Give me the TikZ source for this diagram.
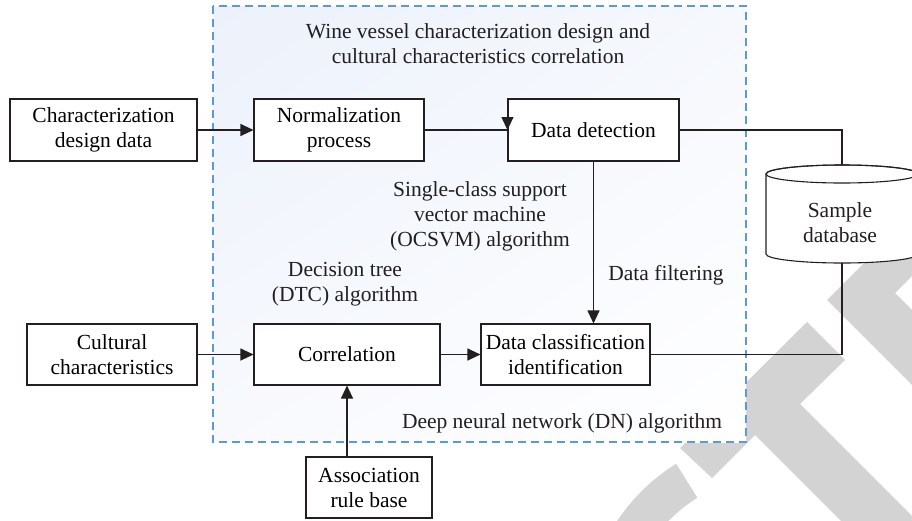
\documentclass[tikz,border=0pt]{standalone}
\usepackage{fontspec}
\setmainfont{Liberation Serif}
\usetikzlibrary{arrows.meta,shadings}

\definecolor{frameblue}{RGB}{91,155,213}
\definecolor{wmgray}{RGB}{211,211,211}
\definecolor{ink}{RGB}{35,31,32}
\definecolor{tint}{RGB}{236,241,251}

\tikzset{
  ln/.style={draw=ink, line width=1.1pt},
  arr/.style={ln, -{Triangle[length=13pt,width=12pt]}},
  blk/.style={draw=ink, line width=1.1pt, fill=white, align=center, inner sep=0pt},
  lbl/.style={align=center, inner sep=0pt, text=ink},
}

\begin{document}
\begin{tikzpicture}[x=1pt, y=-1pt, font=\fontsize{21.5}{25}\selectfont]
\useasboundingbox (0,0) rectangle (912,520);

% background mark
\begin{scope}
  \clip (0,0) rectangle (912,520);
  \fill[wmgray] (827,300) -- (1027,100) -- (1088,100) -- (895,293)
    -- (1100,498) -- (1025,498) -- cycle;
  \fill[wmgray] (680,448) -- (807,322) -- (845,360) -- (800,404)
    -- (1100,704) -- (1100,780) -- (755,435) -- (712,478) -- cycle;
  \fill[wmgray] (780,630) ++(238:196) arc[start angle=238, end angle=170, radius=196]
    -- ++(350:40) arc[start angle=170, end angle=238, radius=156] -- cycle;
\end{scope}

% dashed frame of the design/correlation stage
\shade[upper left=tint, upper right=tint!50!white, lower left=tint!40!white, lower right=white]
  (213,6) rectangle (746,442);
\draw[frameblue, line width=1.1pt, dash pattern=on 8pt off 5pt] (213,6) rectangle (746,442);

\node[lbl] (title) at (478,44) {Wine vessel characterization design and\\cultural characteristics correlation};

% blocks
\node[blk, minimum width=187pt, minimum height=62pt] (cdd)  at (103.5,130) {Characterization\\design data};
\node[blk, minimum width=170pt, minimum height=62pt] (norm) at (339,130) {Normalization\\process};
\node[blk, minimum width=171pt, minimum height=62pt] (det)  at (593.5,130) {Data detection};
\node[blk, minimum width=170pt, minimum height=61pt] (cc)   at (112,354.5) {Cultural\\characteristics};
\node[blk, minimum width=186pt, minimum height=61pt] (corr) at (347,354.5) {Correlation};
\node[blk, minimum width=169pt, minimum height=61pt] (dci)  at (565.5,354.5) {Data classification\\identification};
\node[blk, minimum width=126pt, minimum height=61pt] (arb)  at (369,487.5) {Association\\rule base};

% sample database cylinder
\filldraw[fill=white, draw=ink, line width=1.1pt]
  (766,174) -- (766,254) arc[start angle=180, end angle=0, x radius=76, y radius=9]
  -- (918,174) arc[start angle=0, end angle=-180, x radius=76, y radius=9] -- cycle;
\draw[ink, line width=1.1pt] (842,174) ellipse[x radius=76, y radius=9];
\coordinate (dbtop) at (842,165);
\coordinate (dbbot) at (842,263);
\node[lbl] (db) at (840,223) {Sample\\database};

% algorithm labels
\node[lbl] (ocsvm) at (480,216) {Single-class support\\vector machine\\(OCSVM) algorithm};
\node[lbl] (dtc) at (345,284) {Decision tree\\(DTC) algorithm};
\node[lbl] (filt) at (666,275) {Data filtering};
\node[lbl] (dn) at (562,423) {Deep neural network (DN) algorithm};

% connectors
\draw[arr] (cdd.east) -- (norm.west);
\draw[ln] (norm.east) -- (det.west);
\draw[arr] ([yshift=13pt]det.west) -- (det.west);
\draw[ln] (det.east) -| (dbtop);
\draw[arr] (det.south) -- (det.south |- dci.north);
\draw[arr] (cc.east) -- (corr.west);
\draw[arr] (corr.east) -- (dci.west);
\draw[ln] (dci.east) -| (dbbot);
\draw[arr] (corr.south |- arb.north) -- (corr.south);
\end{tikzpicture}
\end{document}
